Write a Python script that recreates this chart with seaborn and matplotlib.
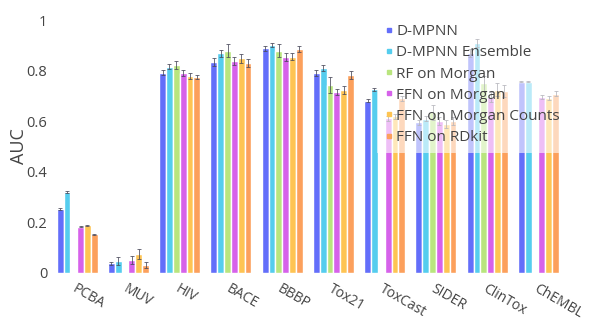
import numpy as np
import pandas as pd
import matplotlib
matplotlib.use("Agg")
import matplotlib.pyplot as plt
from matplotlib.lines import Line2D
import seaborn as sns

nan = np.nan

datasets = ["PCBA", "MUV", "HIV", "BACE", "BBBP", "Tox21", "ToxCast", "SIDER", "ClinTox", "ChEMBL"]
models = ["D-MPNN", "D-MPNN Ensemble", "RF on Morgan", "FFN on Morgan",
          "FFN on Morgan Counts", "FFN on RDkit"]

dmpnn = [0.252, 0.038, 0.792, 0.834, 0.888, 0.789, 0.681, 0.595, 0.870, 0.756]
dmpnn_ens = [0.321, 0.047, 0.816, 0.868, 0.901, 0.809, 0.726, 0.610, 0.909, 0.756]
rf_morgan = [nan, nan, 0.822, 0.879, 0.879, 0.743, nan, 0.635, 0.750, nan]
ffn_morgan = [0.183, 0.051, 0.792, 0.839, 0.853, 0.717, 0.611, 0.600, 0.696, 0.697]
ffn_counts = [0.188, 0.075, 0.779, 0.848, 0.855, 0.723, 0.620, 0.590, 0.725, 0.690]
ffn_rdkit = [0.154, 0.030, 0.776, 0.831, 0.884, 0.783, 0.690, 0.600, 0.720, 0.708]

dmpnn_err = [0.003, 0.005, 0.010, 0.015, 0.010, 0.012, 0.006, 0.010, 0.015, 0.003]
dmpnn_ens_err = [0.004, 0.015, 0.010, 0.015, 0.008, 0.012, 0.006, 0.010, 0.015, 0.003]
rf_morgan_err = [nan, nan, 0.015, 0.025, 0.025, 0.030, nan, 0.030, 0.030, nan]
ffn_morgan_err = [0.002, 0.015, 0.012, 0.015, 0.015, 0.012, 0.010, 0.015, 0.020, 0.008]
ffn_counts_err = [0.003, 0.020, 0.012, 0.018, 0.015, 0.015, 0.010, 0.015, 0.025, 0.008]
ffn_rdkit_err = [0.002, 0.012, 0.008, 0.015, 0.012, 0.015, 0.010, 0.015, 0.025, 0.010]

colors = ["#636EFA", "#55CDEE", "#B9E57E", "#D662EA", "#FEC453", "#FCA05C"]

values = [dmpnn, dmpnn_ens, rf_morgan, ffn_morgan, ffn_counts, ffn_rdkit]
errors = [dmpnn_err, dmpnn_ens_err, rf_morgan_err, ffn_morgan_err, ffn_counts_err, ffn_rdkit_err]

rows = []
for m, vals, errs in zip(models, values, errors):
    for d, v, e in zip(datasets, vals, errs):
        rows.append({"dataset": d, "model": m, "auc": v, "err": e})
df = pd.DataFrame(rows)

sns.set_style("white")
plt.rcParams["font.family"] = ["Open Sans", "DejaVu Sans"]

W, H = 591, 320
fig = plt.figure(figsize=(W / 100, H / 100), dpi=100)
left, right, top, bottom = 51.6, 564.1, 20, 273
ax = fig.add_axes([left / W, 1 - bottom / H, (right - left) / W, (bottom - top) / H])

sns.barplot(data=df, x="dataset", y="auc", hue="model", order=datasets,
            hue_order=models, palette=colors, errorbar=None, width=0.8,
            saturation=1, legend=False, ax=ax)

# error bars on top of each drawn bar
err_lookup = {(r.model, r.dataset): r.err for r in df.itertuples()}
for model, container in zip(models, ax.containers):
    for patch in container.patches:
        h = patch.get_height()
        if not np.isfinite(h) or h == 0:
            continue
        xc = patch.get_x() + patch.get_width() / 2
        d = datasets[int(round(xc))]
        e = err_lookup[(model, d)]
        ax.errorbar(xc, h, yerr=e, fmt="none", ecolor="#4a4a5a", elinewidth=0.7,
                    capsize=1.5, capthick=0.7, alpha=0.8, zorder=3)

ax.set_ylim(0, 1)
ax.set_xlim(-0.5, len(datasets) - 0.5)
ax.set_yticks([0, 0.2, 0.4, 0.6, 0.8, 1])
ax.set_yticklabels(["0", "0.2", "0.4", "0.6", "0.8", "1"])
ax.set_xlabel("")
ax.set_ylabel("AUC", fontsize=13, color="#444444")
ax.yaxis.set_label_coords(-0.047, 0.5)
for s in ax.spines.values():
    s.set_visible(False)
ax.tick_params(axis="both", length=0, labelcolor="#444444")
ax.tick_params(axis="y", pad=3, labelsize=10.5)
ax.tick_params(axis="x", pad=6, labelsize=10)
for lbl in ax.get_xticklabels():
    lbl.set_rotation(-30)
    lbl.set_ha("left")
    lbl.set_va("top")
    lbl.set_rotation_mode("anchor")

handles = [Line2D([0], [0], marker="s", linestyle="", markersize=3,
                  markerfacecolor=c, markeredgecolor=c) for c in colors]
leg = fig.legend(handles, models, loc="upper left",
                 bbox_to_anchor=(377 / W, 1 - 16.7 / H), borderaxespad=0,
                 fontsize=11, frameon=True, handlelength=0.6, handletextpad=0.15,
                 labelspacing=0.40, borderpad=0.5)
frame = leg.get_frame()
frame.set_facecolor("white")
frame.set_alpha(0.6)
frame.set_edgecolor("none")
frame.set_boxstyle("square", pad=0)
for t in leg.get_texts():
    t.set_color("#444444")

fig.savefig("out.png", dpi=100)
